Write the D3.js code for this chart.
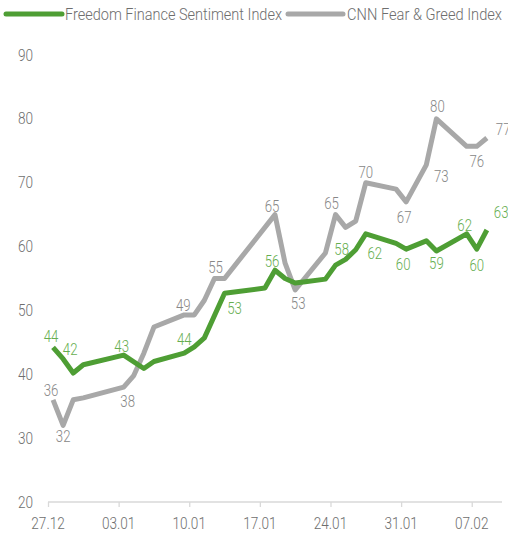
<!DOCTYPE html>
<html><head><meta charset="utf-8">
<script src="https://cdn.jsdelivr.net/npm/d3@7"></script>
<style>
html,body{margin:0;padding:0;background:#fff;}
svg text{font-family:Roboto,"Liberation Sans",sans-serif;font-weight:300;}
</style></head><body>
<svg id="c" width="508" height="533"></svg>
<script>
// ---- data ----
const seriesNames = ["Freedom Finance Sentiment Index", "CNN Fear & Greed Index"];
const ffDates = ["2021-12-27","2021-12-28","2021-12-29","2021-12-30","2022-01-03","2022-01-05","2022-01-06","2022-01-09","2022-01-10","2022-01-11","2022-01-13","2022-01-17","2022-01-18","2022-01-19","2022-01-20","2022-01-21","2022-01-23","2022-01-24","2022-01-25","2022-01-26","2022-01-27","2022-01-30","2022-01-31","2022-02-02","2022-02-03","2022-02-06","2022-02-07","2022-02-08"];
const ffValues = [44.2,42.4,40.2,41.5,43.0,40.9,42.0,43.3,44.3,45.7,52.7,53.5,56.3,55.0,54.3,54.5,54.9,57.1,58.0,59.5,62.0,60.5,59.6,60.9,59.3,62.0,59.6,62.6];
const cnnDates = ["2021-12-27","2021-12-28","2021-12-29","2021-12-30","2022-01-03","2022-01-04","2022-01-05","2022-01-06","2022-01-09","2022-01-10","2022-01-11","2022-01-12","2022-01-13","2022-01-18","2022-01-19","2022-01-20","2022-01-23","2022-01-24","2022-01-25","2022-01-26","2022-01-27","2022-01-30","2022-01-31","2022-02-02","2022-02-03","2022-02-06","2022-02-07","2022-02-08"];
const cnnValues = [36,32,36,36.3,38,39.8,43.3,47.4,49.3,49.3,51.6,55,55,65,57.4,53.2,59,65,63,64,70,69,67,72.8,80,75.7,75.7,77];
// labelled points (index into series) and label placement offsets
const ffLabelIdx = [0,1,4,8,10,12,18,20,22,24,25,26,27];
const ffLabelOff = [[-2,-11],[7,-9],[-2,-9],[-10,-7],[10,15],[-3,-9],[-4,-10],[9,20],[-3,15],[0,12],[-2,-8],[0,16],[7,-17]];
const cnnLabelIdx = [0,1,4,8,11,13,15,17,20,22,23,24,26,27];
const cnnLabelOff = [[-2,-9],[0,11],[4,14],[-1,-9],[1,-11],[-3,-8],[3,13],[-4,-11],[0,-10],[-2,16],[15,12],[1,-12],[0,15],[9,-9]];
const yTicks = [20,30,40,50,60,70,80,90];
const xTickDates = ["2021-12-27","2022-01-03","2022-01-10","2022-01-17","2022-01-24","2022-01-31","2022-02-07"];
const xDomain = ["2021-12-27","2022-02-10"];

// ---- chart ----
const parse = d3.timeParse("%Y-%m-%d");
const fmt = d3.timeFormat("%d.%m");
const green = "#4E9E34", greenText = "#66AE50", grey = "#A8A8A8", greyText = "#878787", tickText = "#6E6E6E";
const SX = 0.8;
const svg = d3.select("#c");
const x = d3.scaleTime().domain(xDomain.map(parse)).range([48, 502]);
const y = d3.scaleLinear().domain([20, 90]).range([502, 55]);
const px = d => x(d3.timeHour.offset(parse(d), 12));

function txt(g, tx, ty, s, color, anchor, size) {
  return g.append("text")
    .attr("transform", `translate(${tx},${ty}) scale(${SX},1)`)
    .attr("text-anchor", anchor).attr("dominant-baseline", "central")
    .attr("fill", color).attr("font-size", size).text(s);
}

// y ticks
yTicks.forEach(v => txt(svg, 33, y(v), v, tickText, "end", 17));

// x axis
const xa = svg.append("g").attr("transform", "translate(0,502)")
  .call(d3.axisBottom(x).tickValues(xTickDates.map(parse)).tickSize(5).tickFormat(""));
xa.select(".domain").attr("stroke", "#D9D9D9").attr("stroke-width", 1.3).attr("d", "M48,0H502");
xa.selectAll(".tick line").attr("stroke", "#D9D9D9").attr("stroke-width", 1.3);
xTickDates.forEach(d => txt(svg, x(parse(d)), 523, fmt(parse(d)), tickText, "middle", 17));

// lines
const line = d3.line().x(d => px(d[0])).y(d => y(d[1]));
svg.append("path").datum(cnnDates.map((d, i) => [d, cnnValues[i]]))
  .attr("d", line).attr("fill", "none").attr("stroke", grey).attr("stroke-width", 5).attr("stroke-linejoin", "round");
svg.append("path").datum(ffDates.map((d, i) => [d, ffValues[i]]))
  .attr("d", line).attr("fill", "none").attr("stroke", green).attr("stroke-width", 5).attr("stroke-linejoin", "round");

// data labels
ffLabelIdx.forEach((k, j) => txt(svg, px(ffDates[k]) + ffLabelOff[j][0], y(ffValues[k]) + ffLabelOff[j][1], Math.round(ffValues[k]), greenText, k === ffDates.length - 1 ? "start" : "middle", 16.5));
cnnLabelIdx.forEach((k, j) => txt(svg, px(cnnDates[k]) + cnnLabelOff[j][0], y(cnnValues[k]) + cnnLabelOff[j][1], Math.round(cnnValues[k]), greyText, k === cnnDates.length - 1 ? "start" : "middle", 16.5));

// legend
const lg = svg.append("g");
lg.append("line").attr("x1", 6).attr("x2", 62).attr("y1", 14).attr("y2", 14).attr("stroke", green).attr("stroke-width", 5).attr("stroke-linecap", "round");
lg.append("text").attr("x", 65).attr("y", 14).attr("dominant-baseline", "central").attr("font-size", 17).attr("fill", tickText)
  .attr("textLength", 217).attr("lengthAdjust", "spacingAndGlyphs").text(seriesNames[0]);
lg.append("line").attr("x1", 288).attr("x2", 343).attr("y1", 14).attr("y2", 14).attr("stroke", grey).attr("stroke-width", 5).attr("stroke-linecap", "round");
lg.append("text").attr("x", 347).attr("y", 14).attr("dominant-baseline", "central").attr("font-size", 17).attr("fill", tickText)
  .attr("textLength", 155).attr("lengthAdjust", "spacingAndGlyphs").text(seriesNames[1]);
</script></body></html>
